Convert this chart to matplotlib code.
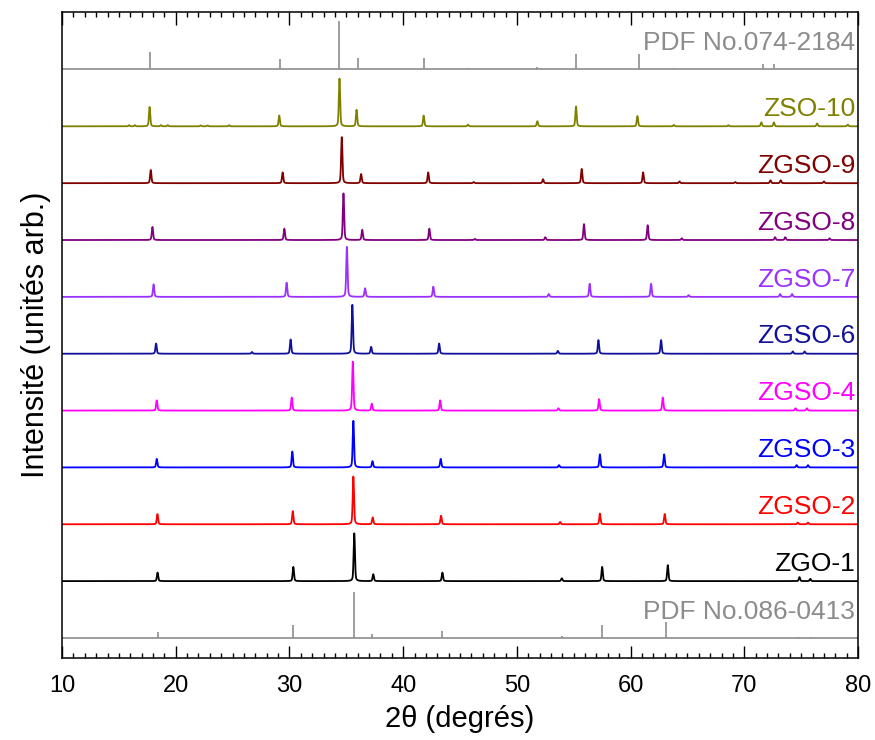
import numpy as np
import matplotlib.pyplot as plt
from matplotlib.ticker import MultipleLocator

# peak positions (2theta) and heights, one offset unit = one panel
pdf_top_pos = [17.7, 29.2, 34.4, 36.0, 41.8, 45.7, 51.8, 55.2, 60.7, 63.8, 71.6, 72.6]
pdf_top_h = [0.30, 0.18, 0.85, 0.20, 0.20, 0.02, 0.04, 0.28, 0.28, 0.03, 0.09, 0.09]

pdf_bot_pos = [18.4, 30.34, 35.7, 37.3, 43.45, 53.95, 57.45, 63.1, 74.75, 75.9]
pdf_bot_h = [0.10, 0.22, 0.81, 0.07, 0.13, 0.04, 0.22, 0.28, 0.02, 0.02]

zso10_pos = [15.9, 16.4, 17.7, 18.7, 19.3, 22.2, 22.8, 24.7, 29.1, 34.4, 35.9, 41.8,
             45.7, 51.8, 55.2, 60.6, 63.8, 68.6, 71.5, 72.6, 76.4, 79.1]
zso10_h = [0.02, 0.02, 0.34, 0.02, 0.02, 0.015, 0.015, 0.02, 0.19, 0.84, 0.29, 0.19,
           0.03, 0.09, 0.35, 0.18, 0.025, 0.02, 0.07, 0.07, 0.05, 0.03]
zgso9_pos = [17.8, 29.4, 34.6, 36.3, 42.2, 46.2, 52.3, 55.7, 61.1, 64.3, 69.2, 72.3, 73.2, 77.0]
zgso9_h = [0.23, 0.19, 0.81, 0.16, 0.19, 0.02, 0.07, 0.25, 0.19, 0.03, 0.02, 0.05, 0.05, 0.03]
zgso8_pos = [17.95, 29.55, 34.75, 36.4, 42.3, 46.3, 52.5, 55.9, 61.5, 64.5, 72.7, 73.6, 77.5]
zgso8_h = [0.23, 0.20, 0.82, 0.18, 0.20, 0.02, 0.05, 0.28, 0.26, 0.03, 0.05, 0.05, 0.03]
zgso7_pos = [18.05, 29.75, 35.05, 36.65, 42.65, 52.8, 56.4, 61.8, 65.1, 73.15, 74.2]
zgso7_h = [0.22, 0.25, 0.88, 0.15, 0.18, 0.05, 0.23, 0.23, 0.03, 0.05, 0.05]
zgso6_pos = [18.27, 26.7, 30.1, 35.53, 37.18, 43.16, 53.6, 57.17, 62.68, 74.26, 75.3]
zgso6_h = [0.18, 0.03, 0.25, 0.86, 0.12, 0.18, 0.05, 0.24, 0.24, 0.04, 0.04]
zgso4_pos = [18.33, 30.2, 35.57, 37.24, 43.25, 53.65, 57.23, 62.83, 74.5, 75.5]
zgso4_h = [0.18, 0.23, 0.86, 0.12, 0.18, 0.04, 0.20, 0.23, 0.04, 0.04]
zgso3_pos = [18.33, 30.25, 35.62, 37.3, 43.3, 53.7, 57.3, 62.95, 74.6, 75.6]
zgso3_h = [0.15, 0.28, 0.82, 0.11, 0.15, 0.04, 0.23, 0.23, 0.04, 0.04]
zgso2_pos = [18.39, 30.29, 35.62, 37.32, 43.33, 53.8, 57.3, 63.0, 74.7, 75.6]
zgso2_h = [0.18, 0.23, 0.84, 0.12, 0.15, 0.04, 0.19, 0.18, 0.03, 0.03]
zgo1_pos = [18.4, 30.34, 35.7, 37.37, 43.45, 53.95, 57.5, 63.27, 74.85, 75.8]
zgo1_h = [0.15, 0.25, 0.84, 0.12, 0.15, 0.05, 0.25, 0.28, 0.07, 0.04]

samples = ['ZGO-1', 'ZGSO-2', 'ZGSO-3', 'ZGSO-4', 'ZGSO-6', 'ZGSO-7', 'ZGSO-8', 'ZGSO-9', 'ZSO-10']
peaks = [(zgo1_pos, zgo1_h), (zgso2_pos, zgso2_h), (zgso3_pos, zgso3_h), (zgso4_pos, zgso4_h),
         (zgso6_pos, zgso6_h), (zgso7_pos, zgso7_h), (zgso8_pos, zgso8_h), (zgso9_pos, zgso9_h),
         (zso10_pos, zso10_h)]
colors = ['#000000', '#ff0000', '#0000ff', '#ff00ff', '#10109a', '#9b30ff', '#800080', '#800000', '#808000']
pdf_col = '#8c8c8c'


def profile(x, pos, h):
    y = np.zeros_like(x)
    for p, a in zip(pos, h):
        g = np.exp(-0.5 * ((x - p) / 0.055) ** 2)
        l = 1 / (1 + ((x - p) / 0.08) ** 2)
        y += a * (0.7 * g + 0.3 * l)
    return y


x = np.arange(10, 80.001, 0.01)

fig = plt.figure(figsize=(8.75, 7.4), dpi=100)
ax = fig.add_axes([0.0709, 0.111, 0.9097, 0.8727])

# bottom reference pattern
ax.axhline(0, color=pdf_col, lw=1.2)
ax.vlines(pdf_bot_pos, 0, pdf_bot_h, color=pdf_col, lw=1.2)
ax.text(79.75, 0.34, 'PDF No.086-0413', color=pdf_col, fontsize=19, ha='right', va='baseline',
        family='Liberation Sans')

for i, (name, (pos, h), c) in enumerate(zip(samples, peaks, colors)):
    off = i + 1
    ax.plot(x, profile(x, pos, h) + off, color=c, lw=1.3)
    ax.text(79.75, off + 0.18, name, color=c, fontsize=19, ha='right', va='baseline',
            family='Liberation Sans')

# top reference pattern
ax.axhline(10, color=pdf_col, lw=1.2)
ax.vlines(pdf_top_pos, 10, np.array(pdf_top_h) + 10, color=pdf_col, lw=1.2)
ax.text(79.75, 10.34, 'PDF No.074-2184', color=pdf_col, fontsize=19, ha='right', va='baseline',
        family='Liberation Sans')

ax.set_xlim(10, 80)
ax.set_ylim(-0.35, 11.01)
ax.set_yticks([])
ax.xaxis.set_major_locator(MultipleLocator(10))
ax.xaxis.set_minor_locator(MultipleLocator(1))
ax.tick_params(axis='x', which='both', direction='in', top=True, width=1)
ax.tick_params(axis='x', which='major', length=9, pad=12)
ax.tick_params(axis='x', which='minor', length=3.6)
for s in ax.spines.values():
    s.set_linewidth(1.1)
for lab in ax.get_xticklabels():
    lab.set_family(['Liberation Sans Narrow', 'Liberation Sans'])
    lab.set_fontsize(17)

ax.set_xlabel('2θ (degrés)', fontsize=21, family=['Liberation Sans Narrow', 'Liberation Sans', 'DejaVu Sans'],
              labelpad=6)
ax.set_ylabel('Intensité (unités arb.)', fontsize=22, family='Liberation Sans', labelpad=8)

fig.savefig('out.png', dpi=100)
